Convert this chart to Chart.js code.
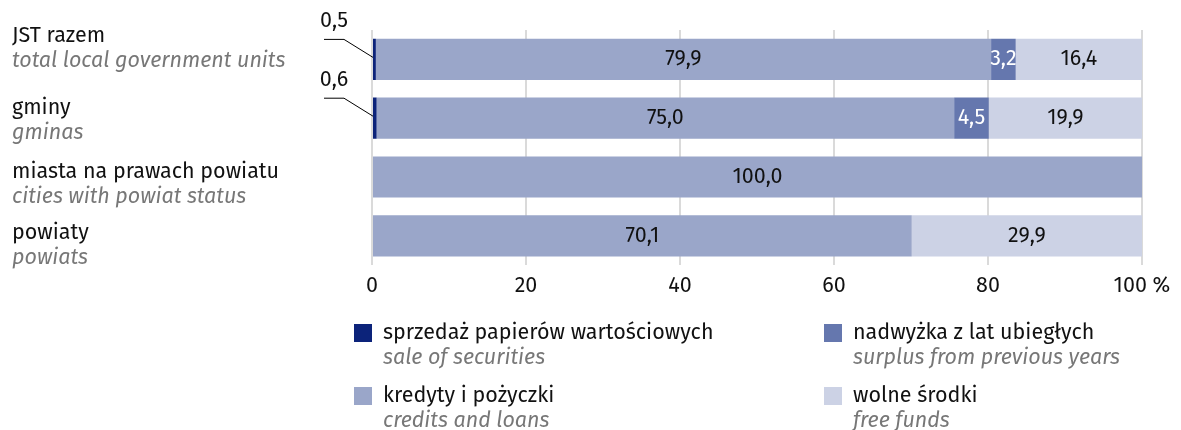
<!DOCTYPE html>
<html>
<head>
<meta charset="utf-8">
<script src="https://cdn.jsdelivr.net/npm/chart.js@4"></script>
<style>
  html, body { margin: 0; padding: 0; background: #fff; }
  #wrap { width: 1181px; height: 430px; }
</style>
</head>
<body>
<div id="wrap"><canvas id="chart" width="1181" height="430"></canvas></div>
<script>
const categoriesPl = ['JST razem', 'gminy', 'miasta na prawach powiatu', 'powiaty'];
const categoriesEn = ['total local government units', 'gminas', 'cities with powiat status', 'powiats'];

const securities = [0.5, 0.6, 0, 0];
const credits = [79.9, 75.0, 100.0, 70.1];
const surplus = [3.2, 4.5, 0, 0];
const freeFunds = [16.4, 19.9, 0, 29.9];

const xTicks = [0, 20, 40, 60, 80, 100];

const seriesPl = ['sprzedaż papierów wartościowych', 'kredyty i pożyczki', 'nadwyżka z lat ubiegłych', 'wolne środki'];
const seriesEn = ['sale of securities', 'credits and loans', 'surplus from previous years', 'free funds'];
const colors = ['#0c237a', '#9aa6c9', '#6577ae', '#ccd2e5'];
const labelColors = ['#000', '#111', '#fff', '#111'];

const FONT = "'Fira Sans', 'Noto Sans', sans-serif";
const SIZE = 21.5;
const fmt = v => v.toFixed(1).replace('.', ',');

// left labels don't sit exactly on the bar centres in the original
const sideShift = [-23, -10, -5, -3];

// category labels on the left, two lines each
const sideLabels = {
    id: 'sideLabels',
    afterDraw(chart) {
        const ctx = chart.ctx;
        const y = chart.scales.y;
        ctx.save();
        ctx.textAlign = 'left';
        ctx.textBaseline = 'middle';
        categoriesPl.forEach((c, i) => {
            const py = y.getPixelForValue(i) + sideShift[i];
            ctx.font = SIZE + 'px ' + FONT;
            ctx.fillStyle = '#111';
            ctx.fillText(c, 12, py);
            ctx.font = 'italic ' + SIZE + 'px ' + FONT;
            ctx.fillStyle = '#777';
            ctx.fillText(categoriesEn[i], 12, py + 25);
        });
        ctx.restore();
    }
};

// value labels inside bars, leader lines for tiny segments
const valueLabels = {
    id: 'valueLabels',
    afterDatasetsDraw(chart) {
        const ctx = chart.ctx;
        ctx.save();
        ctx.font = SIZE + 'px ' + FONT;
        ctx.textBaseline = 'middle';
        ctx.textAlign = 'center';
        chart.data.datasets.forEach((ds, di) => {
            const meta = chart.getDatasetMeta(di);
            meta.data.forEach((bar, j) => {
                const v = ds.data[j];
                if (!v) return;
                const left = Math.min(bar.x, bar.base);
                const cx = (bar.x + bar.base) / 2;
                if (v < 1) {
                    ctx.strokeStyle = '#000';
                    ctx.lineWidth = 1;
                    ctx.beginPath();
                    ctx.moveTo(left - 49, bar.y - 20);
                    ctx.lineTo(left - 29, bar.y - 20);
                    ctx.lineTo(left, bar.y - 2);
                    ctx.stroke();
                    ctx.fillStyle = '#111';
                    ctx.fillText(fmt(v), left - 39, bar.y - 38);
                } else {
                    ctx.fillStyle = labelColors[di];
                    ctx.fillText(fmt(v), cx, bar.y);
                }
            });
        });
        ctx.restore();
    }
};

// legend in two columns below the axis
const bottomLegend = {
    id: 'bottomLegend',
    afterDraw(chart) {
        const ctx = chart.ctx;
        const cols = [354, 824];
        const rows = [333, 396];
        ctx.save();
        ctx.textAlign = 'left';
        ctx.textBaseline = 'middle';
        chart.data.datasets.forEach((ds, i) => {
            const x = cols[Math.floor(i / 2)];
            const y = rows[i % 2];
            ctx.fillStyle = ds.backgroundColor;
            ctx.fillRect(x, y - 9, 18, 18);
            ctx.font = SIZE + 'px ' + FONT;
            ctx.fillStyle = '#111';
            ctx.fillText(seriesPl[i], x + 29, y);
            ctx.font = 'italic ' + SIZE + 'px ' + FONT;
            ctx.fillStyle = '#777';
            ctx.fillText(seriesEn[i], x + 29, y + 25);
        });
        ctx.restore();
    }
};

const values = [securities, credits, surplus, freeFunds];

new Chart(document.getElementById('chart'), {
    type: 'bar',
    data: {
        labels: categoriesPl,
        datasets: values.map((d, i) => ({
            label: seriesPl[i],
            data: d,
            backgroundColor: colors[i],
            borderWidth: 0,
            barPercentage: 0.7,
            categoryPercentage: 1
        }))
    },
    options: {
        indexAxis: 'y',
        responsive: false,
        animation: false,
        layout: { padding: { left: 372, right: 39, top: 30, bottom: 123 } },
        plugins: { legend: { display: false }, tooltip: { enabled: false } },
        scales: {
            x: {
                stacked: true,
                min: 0,
                max: 100,
                afterBuildTicks: s => { s.ticks = xTicks.map(v => ({ value: v })); },
                grid: { color: '#dadada', lineWidth: 2, drawTicks: false },
                border: { display: false },
                ticks: {
                    padding: 8,
                    color: '#111',
                    font: { family: FONT, size: SIZE },
                    callback: v => v === 100 ? '100 %' : v
                }
            },
            y: {
                stacked: true,
                display: false
            }
        }
    },
    plugins: [sideLabels, valueLabels, bottomLegend]
});
</script>
</body>
</html>
